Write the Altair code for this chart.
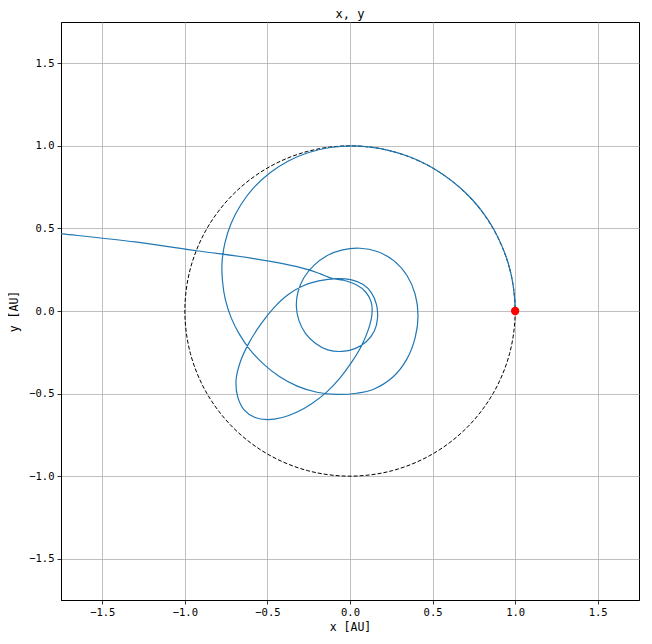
import altair as alt
import pandas as pd

# Trajectory (x, y in AU), in drawing order
traj_x = [1.000, 0.998, 0.990, 0.975, 0.950, 0.915, 0.868, 0.810, 0.740, 0.660,
          0.570, 0.470, 0.360, 0.245, 0.125, 0.010,
          -0.120, -0.250, -0.370, -0.480, -0.580, -0.660, -0.720, -0.758, -0.775,
          -0.772, -0.755, -0.720, -0.670, -0.605, -0.525, -0.430, -0.320, -0.200,
          -0.080, 0.040, 0.140, 0.260, 0.345, 0.395, 0.412,
          0.395, 0.345, 0.265, 0.165, 0.060,
          -0.045, -0.140, -0.220, -0.280, -0.315, -0.325, -0.310, -0.270,
          -0.210, -0.135, -0.050, 0.030, 0.100, 0.148, 0.167,
          0.160, 0.130, 0.080, 0.010, -0.080,
          -0.190, -0.290, -0.380, -0.460, -0.540, -0.610, -0.665, -0.690, -0.680,
          -0.640, -0.575, -0.500, -0.410, -0.320, -0.230, -0.140, -0.060, 0.010,
          0.070, 0.112, 0.133, 0.128, 0.095, 0.035, -0.040, -0.110,
          -0.180, -0.260, -0.400, -0.600, -0.930, -1.300, -1.740, -1.900]
traj_y = [0.000, 0.060, 0.140, 0.225, 0.315, 0.405, 0.500, 0.590, 0.675, 0.752,
          0.822, 0.884, 0.934, 0.970, 0.992, 1.000,
          0.990, 0.960, 0.910, 0.840, 0.750, 0.645, 0.530, 0.410, 0.290,
          0.180, 0.070, -0.040, -0.140, -0.235, -0.320, -0.395, -0.455, -0.492,
          -0.505, -0.498, -0.475, -0.400, -0.290, -0.160, -0.030,
          0.100, 0.215, 0.305, 0.360, 0.380,
          0.370, 0.335, 0.275, 0.200, 0.115, 0.030, -0.055, -0.135,
          -0.195, -0.235, -0.245, -0.228, -0.185, -0.120, -0.040,
          0.040, 0.110, 0.160, 0.188, 0.196,
          0.182, 0.150, 0.095, 0.020, -0.080, -0.190, -0.310, -0.420, -0.520,
          -0.600, -0.645, -0.658, -0.645, -0.612, -0.560, -0.490, -0.405, -0.310,
          -0.210, -0.110, -0.020, 0.055, 0.115, 0.160, 0.186, 0.198,
          0.225, 0.252, 0.285, 0.320, 0.365, 0.418, 0.467, 0.484]

# Reference unit circle (dashed), points every 15 degrees
circle_x = [1.000, 0.966, 0.866, 0.707, 0.500, 0.259, 0.000, -0.259, -0.500, -0.707,
            -0.866, -0.966, -1.000, -0.966, -0.866, -0.707, -0.500, -0.259, 0.000,
            0.259, 0.500, 0.707, 0.866, 0.966]
circle_y = [0.000, 0.259, 0.500, 0.707, 0.866, 0.966, 1.000, 0.966, 0.866, 0.707,
            0.500, 0.259, 0.000, -0.259, -0.500, -0.707, -0.866, -0.966, -1.000,
            -0.966, -0.866, -0.707, -0.500, -0.259]

# Marker
point_x = [1.0]
point_y = [0.0]

tick_values = [-1.5, -1.0, -0.5, 0.0, 0.5, 1.0, 1.5]
domain = [-1.75, 1.75]

traj_df = pd.DataFrame({"x": traj_x, "y": traj_y, "i": range(len(traj_x))})
circle_df = pd.DataFrame({"x": circle_x, "y": circle_y, "i": range(len(circle_x))})
point_df = pd.DataFrame({"x": point_x, "y": point_y})

FONT = "DejaVu Sans Mono"

xenc = alt.X("x:Q", scale=alt.Scale(domain=domain, nice=False, zero=False),
             axis=alt.Axis(values=tick_values, format=".1f", title="x [AU]"))
yenc = alt.Y("y:Q", scale=alt.Scale(domain=domain, nice=False, zero=False),
             axis=alt.Axis(values=tick_values, format=".1f", title="y [AU]",
                           titlePadding=9))

circle = alt.Chart(circle_df).mark_line(
    interpolate="cardinal-closed", tension=0, color="black",
    strokeWidth=1, strokeDash=[4, 2]
).encode(x=xenc, y=yenc, order="i:Q")

traj = alt.Chart(traj_df).mark_line(
    interpolate="catmull-rom", color="#1f77b4", strokeWidth=1.2, clip=True
).encode(x=xenc, y=yenc, order="i:Q")

pt = alt.Chart(point_df).mark_point(
    filled=True, color="red", size=70, opacity=1, shape="circle"
).encode(x=xenc, y=yenc)

chart = alt.layer(circle, traj, pt).properties(
    width=578, height=578,
    title=alt.TitleParams("x, y", font=FONT, fontSize=12, fontWeight="normal",
                          color="black", offset=1),
    autosize=alt.AutoSizeParams(type="none"),
    padding={"left": 53, "top": 14, "right": 5, "bottom": 36},
).configure_view(
    stroke="black", strokeWidth=1
).configure_axis(
    grid=True, gridColor="#b0b0b0", gridWidth=0.8,
    domainColor="black", domainWidth=1,
    tickColor="black", tickSize=4, tickWidth=0.8,
    labelFont=FONT, labelFontSize=10.5, labelColor="black", labelPadding=3,
    titleFont=FONT, titleFontSize=11.5, titleFontWeight="normal", titleColor="black",
    titlePadding=4,
)

chart.save("out.html", embed_options={"renderer": "svg", "actions": False})
